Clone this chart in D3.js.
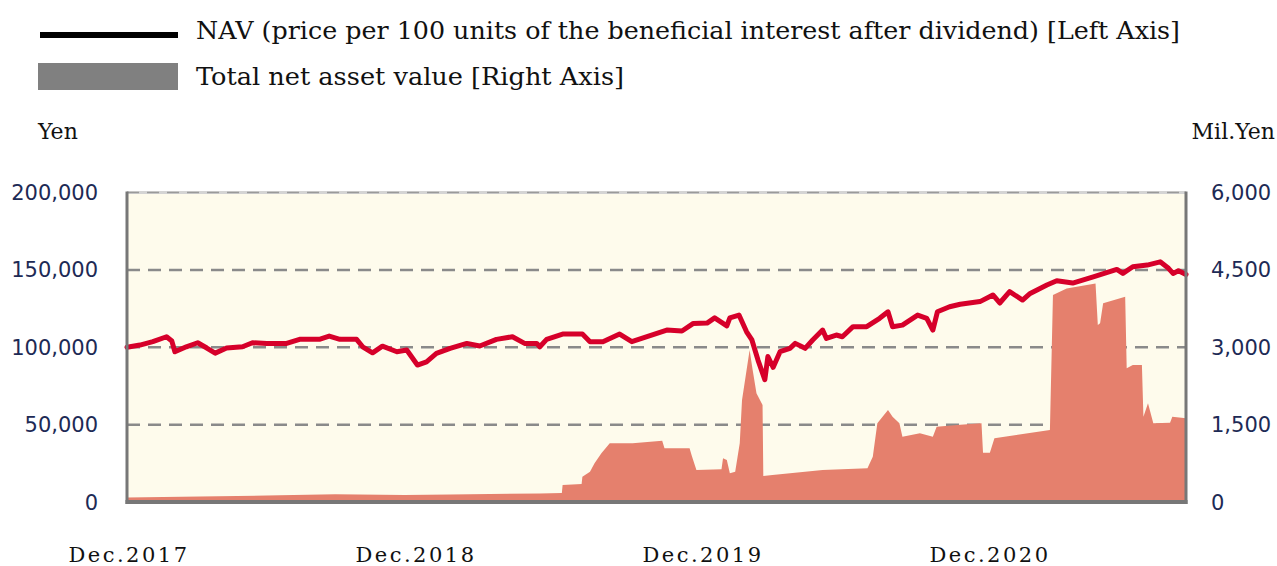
<!DOCTYPE html>
<html>
<head>
<meta charset="utf-8">
<script src="https://cdn.jsdelivr.net/npm/d3@7"></script>
<style>
  html, body { margin: 0; padding: 0; background: #ffffff; }
  svg { display: block; }
</style>
</head>
<body>
<svg id="chart" width="1277" height="566"></svg>
<script>
// ---------------- DATA ----------------
const navDates = ["2017-12-01","2017-12-18","2018-01-04","2018-01-22","2018-01-29","2018-02-02","2018-02-17","2018-03-04","2018-03-16","2018-03-27","2018-04-11","2018-05-02","2018-05-15","2018-06-03","2018-06-29","2018-07-16","2018-08-11","2018-08-24","2018-09-07","2018-09-29","2018-10-07","2018-10-20","2018-11-02","2018-11-21","2018-12-04","2018-12-18","2018-12-30","2019-01-12","2019-01-30","2019-02-21","2019-03-10","2019-04-01","2019-04-22","2019-05-08","2019-05-24","2019-05-28","2019-06-06","2019-06-27","2019-07-23","2019-08-02","2019-08-19","2019-09-10","2019-09-26","2019-10-16","2019-11-11","2019-12-01","2019-12-16","2020-01-03","2020-01-13","2020-01-29","2020-02-02","2020-02-14","2020-02-24","2020-03-02","2020-03-10","2020-03-19","2020-03-23","2020-03-30","2020-04-08","2020-04-21","2020-04-28","2020-05-11","2020-05-21","2020-06-03","2020-06-08","2020-06-21","2020-06-29","2020-07-13","2020-07-31","2020-08-17","2020-08-28","2020-09-03","2020-09-16","2020-10-06","2020-10-18","2020-10-26","2020-11-01","2020-11-17","2020-12-01","2020-12-27","2021-01-13","2021-01-22","2021-02-04","2021-02-21","2021-03-03","2021-03-25","2021-04-07","2021-04-28","2021-05-25","2021-06-25","2021-07-03","2021-07-16","2021-08-04","2021-08-21","2021-09-01","2021-09-07","2021-09-14","2021-09-24"];
const navValues = [100000,101400,103600,106800,104000,97100,100300,102900,99500,96200,99500,100300,102900,102500,102500,105100,105100,107200,105100,105100,100300,96400,100700,97100,98200,88500,90600,96000,99300,102500,100800,105100,106800,102500,102500,100300,105100,108500,108500,103600,103600,108500,103600,106800,111100,110500,115400,115600,119000,113800,119000,120800,110000,104700,91700,79000,94000,87000,97100,99300,102500,99300,104700,111100,105700,107900,106800,113300,113300,118700,122900,113300,114300,120800,118700,111100,122900,126200,127800,129500,133800,128600,135900,130500,134800,140200,143000,141500,145500,150300,147700,152000,153100,155200,151000,147700,149400,147000];

const assetDates = ["2017-12-01","2018-03-07","2018-06-20","2018-09-01","2018-12-01","2019-01-30","2019-05-28","2019-06-26","2019-06-27","2019-07-22","2019-07-23","2019-08-02","2019-08-08","2019-08-17","2019-08-28","2019-09-27","2019-11-05","2019-11-08","2019-12-11","2019-12-14","2019-12-20","2020-01-22","2020-01-24","2020-01-29","2020-02-02","2020-02-09","2020-02-15","2020-02-18","2020-02-24","2020-02-28","2020-03-03","2020-03-08","2020-03-16","2020-03-17","2020-03-29","2020-06-03","2020-08-01","2020-08-08","2020-08-14","2020-08-28","2020-09-03","2020-09-12","2020-09-16","2020-10-09","2020-10-26","2020-10-31","2020-12-01","2020-12-29","2020-12-31","2021-01-09","2021-01-15","2021-03-29","2021-04-02","2021-04-20","2021-05-28","2021-05-31","2021-06-03","2021-06-07","2021-07-06","2021-07-08","2021-07-16","2021-07-28","2021-07-30","2021-08-05","2021-08-12","2021-09-03","2021-09-06","2021-09-24"];
const assetValues = [85,105,130,150,135,145,165,175,330,349,490,587,750,944,1138,1138,1188,1040,1040,891,620,634,847,814,556,587,1138,1977,2558,2946,2558,2107,1880,504,523,620,653,878,1525,1783,1653,1525,1266,1331,1266,1459,1500,1525,955,955,1234,1395,4012,4141,4238,3430,3463,3851,3979,2591,2655,2655,1653,1913,1525,1537,1653,1622];

const leftTicks = [0, 50000, 100000, 150000, 200000];
const rightTicks = [0, 1500, 3000, 4500, 6000];
const xLabels = ["Dec.2017", "Dec.2018", "Dec.2019", "Dec.2020"];
const legendLabels = ["NAV (price per 100 units of the beneficial interest after dividend) [Left Axis]", "Total net asset value [Right Axis]"];
const domainDates = ["2017-12-01", "2021-09-24"];

// ---------------- CHART ----------------
const parse = d3.timeParse("%Y-%m-%d");
const nav = navDates.map((d, i) => ({ date: parse(d), v: navValues[i] }));
const assets = assetDates.map((d, i) => ({ date: parse(d), v: assetValues[i] }));

const svg = d3.select("#chart");
const L = 127, R = 1186, T = 192.5, B = 502;

const x = d3.scaleTime().domain(domainDates.map(parse)).range([L, R]);
const yL = d3.scaleLinear().domain([0, 200000]).range([B, T]);
const yR = d3.scaleLinear().domain([0, 6000]).range([B, T]);

// plot background
svg.append("rect").attr("x", L).attr("y", T).attr("width", R - L).attr("height", B - T)
  .attr("fill", "#fefbec");

// gridlines
svg.append("g").selectAll("line").data(leftTicks.filter(t => t > 0 && t < 200000)).join("line")
  .attr("x1", L).attr("x2", R).attr("y1", d => yL(d)).attr("y2", d => yL(d))
  .attr("stroke", "#8a8a8a").attr("stroke-width", 2.5).attr("stroke-dasharray", "13,8");

// top border (light + dashed)
svg.append("line").attr("x1", L).attr("x2", R).attr("y1", yL(200000)).attr("y2", yL(200000))
  .attr("stroke", "#d4d4d4").attr("stroke-width", 3);
svg.append("line").attr("x1", L).attr("x2", R).attr("y1", yL(200000)).attr("y2", yL(200000))
  .attr("stroke", "#9a9a9a").attr("stroke-width", 1.5).attr("stroke-dasharray", "12,8");

// area: total net assets
const area = d3.area().x(d => x(d.date)).y0(yR(0)).y1(d => yR(d.v));
svg.append("path").datum(assets).attr("d", area).attr("fill", "#e5806d");

// NAV line
const line = d3.line().x(d => x(d.date)).y(d => yL(d.v));
svg.append("path").datum(nav).attr("d", line)
  .attr("fill", "none").attr("stroke", "#d6002a").attr("stroke-width", 5)
  .attr("stroke-linejoin", "round").attr("stroke-linecap", "round");

// bottom tick marks (every 6 months)
const tickDates = d3.timeMonth.every(6).range(parse("2018-06-01"), parse("2021-09-01")).filter(d => d.getMonth() === 5 || d.getMonth() === 11);
svg.append("g").selectAll("line").data(tickDates).join("line")
  .attr("x1", d => x(d)).attr("x2", d => x(d)).attr("y1", B).attr("y2", B - 6)
  .attr("stroke", "#777").attr("stroke-width", 2);

// frame
svg.append("line").attr("x1", L).attr("x2", L).attr("y1", T - 1).attr("y2", B + 2)
  .attr("stroke", "#777").attr("stroke-width", 3);
svg.append("line").attr("x1", R).attr("x2", R).attr("y1", T - 1).attr("y2", B + 2)
  .attr("stroke", "#777").attr("stroke-width", 3);
svg.append("line").attr("x1", L - 1.5).attr("x2", R + 1.5).attr("y1", B).attr("y2", B)
  .attr("stroke", "#777").attr("stroke-width", 4);

// axis labels
const fmt = d3.format(",");
svg.append("g").selectAll("text").data(leftTicks).join("text")
  .attr("x", 98).attr("y", d => yL(d)).attr("dy", "0.36em")
  .attr("text-anchor", "end").attr("font-family", "DejaVu Sans").attr("font-size", 21)
  .attr("fill", "#1d2a55").text(d => fmt(d));
svg.append("g").selectAll("text").data(rightTicks).join("text")
  .attr("x", 1211).attr("y", d => yR(d)).attr("dy", "0.36em")
  .attr("text-anchor", "start").attr("font-family", "DejaVu Sans").attr("font-size", 21)
  .attr("fill", "#1d2a55").text(d => fmt(d));

// unit labels
svg.append("text").attr("x", 38).attr("y", 139).attr("font-family", "DejaVu Serif")
  .attr("font-size", 22).attr("fill", "#111").text("Yen");
svg.append("text").attr("x", 1275).attr("y", 139).attr("text-anchor", "end").attr("font-family", "DejaVu Serif")
  .attr("font-size", 22).attr("fill", "#111").text("Mil.Yen");

// x labels
const xl = d3.scaleLinear().domain([0, 3]).range([129, 990]);
svg.append("g").selectAll("text").data(xLabels).join("text")
  .attr("x", (d, i) => xl(i)).attr("y", 562).attr("text-anchor", "middle")
  .attr("font-family", "DejaVu Serif").attr("font-size", 21).attr("letter-spacing", "2.5px")
  .attr("fill", "#111").text(d => d);

// legend
svg.append("line").attr("x1", 40).attr("x2", 178).attr("y1", 35).attr("y2", 35)
  .attr("stroke", "#000").attr("stroke-width", 6);
svg.append("rect").attr("x", 38).attr("y", 63).attr("width", 140).attr("height", 27).attr("fill", "#808080");
svg.append("text").attr("x", 196).attr("y", 39).attr("font-family", "DejaVu Serif")
  .attr("font-size", 24).attr("fill", "#111").attr("textLength", 984).attr("lengthAdjust", "spacingAndGlyphs")
  .text(legendLabels[0]);
svg.append("text").attr("x", 196).attr("y", 85).attr("font-family", "DejaVu Serif")
  .attr("font-size", 24).attr("fill", "#111").attr("textLength", 428).attr("lengthAdjust", "spacingAndGlyphs")
  .text(legendLabels[1]);
</script>
</body>
</html>
